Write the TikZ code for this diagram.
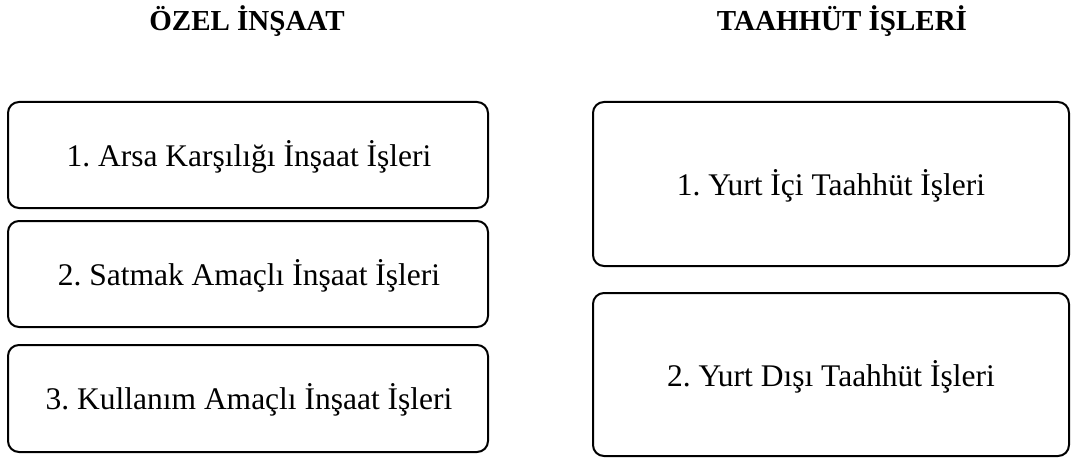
\documentclass[tikz,border=0pt]{standalone}
\usepackage{fontspec}
\setmainfont{Liberation Serif}
\frenchspacing
\begin{document}
\begin{tikzpicture}[x=1pt,y=-1pt,
  itembox/.style={draw=black,line width=2pt,rounded corners=11pt},
  itemtext/.style={font=\fontsize{31.5}{36}\selectfont,inner sep=0pt,anchor=base},
  headtext/.style={font=\fontsize{29}{34}\selectfont\bfseries,inner sep=0pt}]
\useasboundingbox (0,0) rectangle (1072,460);
% column headings
\node[headtext] (h1) at (247,21) {ÖZEL İNŞAAT};
\node[headtext] (h2) at (842,21) {TAAHHÜT İŞLERİ};
% left column
\draw[itembox] (8,102) rectangle (488,208);
\node[itemtext] (l1) at (249,166) {1. Arsa Karşılığı İnşaat İşleri};
\draw[itembox] (8,221) rectangle (488,327);
\node[itemtext] (l2) at (249,285) {2. Satmak Amaçlı İnşaat İşleri};
\draw[itembox] (8,345) rectangle (488,452);
\node[itemtext] (l3) at (249,409) {3. Kullanım Amaçlı İnşaat İşleri};
% right column
\draw[itembox] (593,102) rectangle (1069,266);
\node[itemtext] (r1) at (831,195) {1. Yurt İçi Taahhüt İşleri};
\draw[itembox] (593,293) rectangle (1069,456);
\node[itemtext] (r2) at (831,386) {2. Yurt Dışı Taahhüt İşleri};
\end{tikzpicture}
\end{document}
